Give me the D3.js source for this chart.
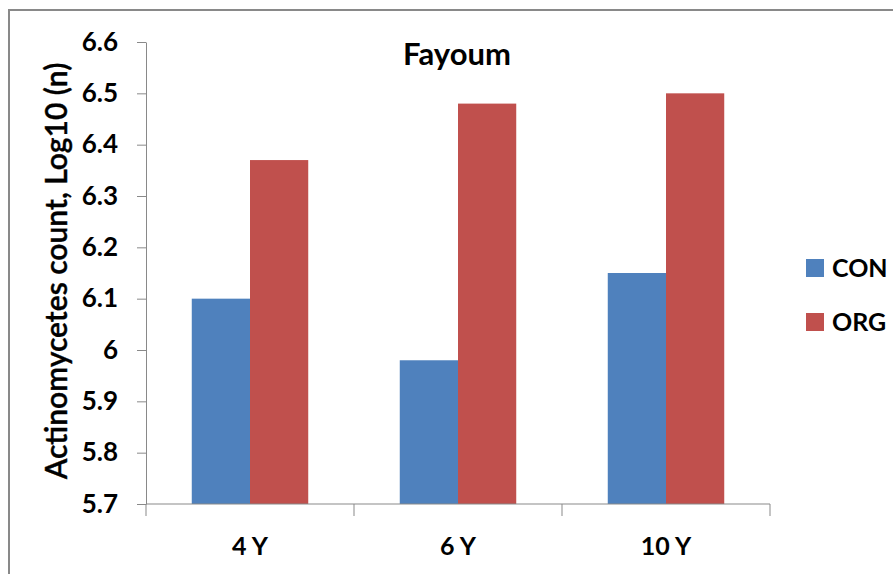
<!DOCTYPE html>
<html>
<head>
<meta charset="utf-8">
<script src="https://cdn.jsdelivr.net/npm/d3@7"></script>
<style>
  body { margin: 0; background: #fff; }
  svg text { font-family: Lato, "Open Sans", sans-serif; fill: #000; }
</style>
</head>
<body>
<div id="chart"></div>
<script>
// data
const years = ["4 Y", "6 Y", "10 Y"];
const series = ["CON", "ORG"];
const conValues = [6.10, 5.98, 6.15];
const orgValues = [6.37, 6.48, 6.50];
const yTicks = [5.7, 5.8, 5.9, 6, 6.1, 6.2, 6.3, 6.4, 6.5, 6.6];
const colors = ["#4f81bd", "#c0504d"];

const width = 893, height = 574;
const margin = {top: 42, right: 123, bottom: 70, left: 146};

const svg = d3.select("#chart").append("svg")
    .attr("width", width)
    .attr("height", height);

// outer frame (only top/left visible)
svg.append("path")
    .attr("d", "M9," + height + " L9,10 L" + width + ",10")
    .attr("fill", "none")
    .attr("stroke", "#898989")
    .attr("stroke-width", 2);

var x = d3.scaleBand()
    .domain(years)
    .range([margin.left, width - margin.right])
    .paddingInner(0.44)
    .paddingOuter(0.22);

var xSub = d3.scaleBand()
    .domain(series)
    .range([0, x.bandwidth()]);

var y = d3.scaleLinear()
    .domain([5.7, 6.6])
    .range([height - margin.bottom, margin.top]);

// bars
var rows = years.map((yr, i) => ({year: yr, vals: [conValues[i], orgValues[i]]}));

var groups = svg.append("g").selectAll("g")
    .data(rows)
    .join("g")
    .attr("transform", d => "translate(" + x(d.year) + ",0)");

groups.selectAll("rect")
    .data(d => d.vals.map((v, j) => ({s: series[j], v: v, c: colors[j]})))
    .join("rect")
    .attr("x", d => xSub(d.s))
    .attr("y", d => y(d.v))
    .attr("width", xSub.bandwidth())
    .attr("height", d => y(5.7) - y(d.v))
    .attr("fill", d => d.c);

// y axis
var y_axis = d3.axisLeft(y)
    .tickValues(yTicks)
    .tickFormat(d3.format("~g"))
    .tickSize(9)
    .tickPadding(19)
    .tickSizeOuter(0);

var gy = svg.append("g")
    .attr("transform", "translate(" + margin.left + ",0)")
    .call(y_axis);
gy.select(".domain").attr("stroke", "#898989");
gy.selectAll(".tick line").attr("stroke", "#898989");
gy.selectAll(".tick text")
    .style("font-size", "26px")
    .style("font-weight", "bold");

// x axis
var xLine = svg.append("g");
xLine.append("line")
    .attr("x1", margin.left).attr("x2", width - margin.right)
    .attr("y1", y(5.7)).attr("y2", y(5.7))
    .attr("stroke", "#898989");

var step = x.step();
var bounds = d3.range(years.length + 1).map(i => margin.left + i * step);
xLine.selectAll(".xt")
    .data(bounds)
    .join("line")
    .attr("class", "xt")
    .attr("x1", d => d).attr("x2", d => d)
    .attr("y1", y(5.7)).attr("y2", y(5.7) + 12)
    .attr("stroke", "#898989");

xLine.selectAll(".xl")
    .data(years)
    .join("text")
    .attr("class", "xl")
    .attr("x", d => x(d) + x.bandwidth() / 2)
    .attr("y", 555)
    .attr("text-anchor", "middle")
    .style("font-size", "25px")
    .style("font-weight", "bold")
    .text(d => d);

// title
svg.append("text")
    .attr("x", 457)
    .attr("y", 65)
    .attr("text-anchor", "middle")
    .style("font-size", "31px")
    .style("font-weight", "bold")
    .text("Fayoum");

// y title
svg.append("text")
    .attr("transform", "translate(67,271) rotate(-90)")
    .attr("text-anchor", "middle")
    .style("font-size", "30px")
    .style("font-weight", "600")
    .style("stroke", "#000")
    .style("stroke-width", 0.4)
    .text("Actinomycetes count, Log10 (n)");

// legend
var legend = svg.append("g").selectAll("g")
    .data(series)
    .join("g")
    .attr("transform", (d, i) => "translate(806," + (259 + i * 54) + ")");

legend.append("rect")
    .attr("width", 18)
    .attr("height", 18)
    .attr("fill", (d, i) => colors[i]);

legend.append("text")
    .attr("x", 26)
    .attr("y", 18)
    .style("font-size", "25px")
    .style("font-weight", "bold")
    .text(d => d);
</script>
</body>
</html>
